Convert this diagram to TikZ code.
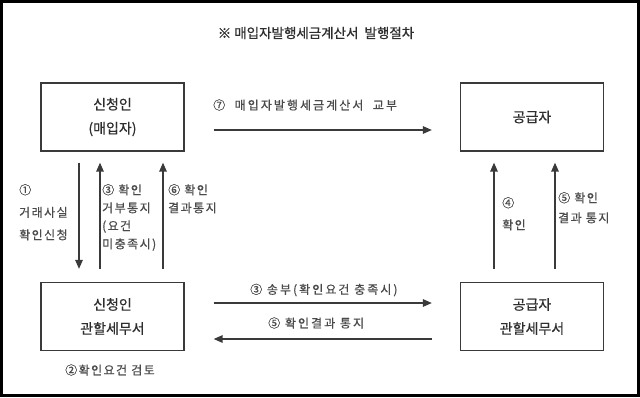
\documentclass[tikz,border=0pt]{standalone}
\usepackage{fontspec}
\setmainfont[FakeBold=0.6]{Noto Sans CJK KR}
\newfontfamily\krlab[LetterSpace=12,FakeBold=0.6]{Noto Sans CJK KR}
\newfontfamily\krwide[LetterSpace=17,FakeBold=0.6]{Noto Sans CJK KR}
\newfontfamily\krtitle[FakeBold=0.8]{Noto Sans CJK KR}
\usetikzlibrary{arrows.meta}
\definecolor{txt}{HTML}{2e2e2e}
\definecolor{labc}{HTML}{4a4a4a}
\definecolor{linec}{HTML}{3a3a3a}
\tikzset{
  box/.style={draw=linec, line width=1.3pt, minimum width=143pt, minimum height=68pt,
    inner sep=0pt, align=center, text=txt, font=\fontsize{14pt}{24pt}\selectfont},
  arr/.style={draw=linec, line width=1.4pt, -{Triangle[length=9pt,width=7.5pt]}},
  lab/.style={text=labc, inner sep=0pt, align=left, anchor=west,
    font=\krlab\fontsize{12pt}{18pt}\selectfont},
  widelab/.style={lab, font=\krwide\fontsize{12pt}{18pt}\selectfont},
}
\begin{document}
\begin{tikzpicture}[x=1pt,y=-1pt]
\useasboundingbox (0,0) rectangle (640,397);
\draw[black, line width=2.6pt] (1.3,1.3) rectangle (638.7,395.7);
\node[text=txt, font=\krtitle\fontsize{13.5pt}{15pt}\selectfont] (title) at (316,33) {※ 매입자발행세금계산서\ \ 발행절차};
\node[box] (b1) at (112.5,117) {신청인\\(매입자)};
\node[box] (b2) at (532,117) {공급자};
\node[box] (b3) at (112.5,316.5) {신청인\\관할세무서};
\node[box] (b4) at (532,316.5) {공급자\\관할세무서};
% top horizontal
\draw[arr, shorten <=29pt, shorten >=28pt] ([yshift=-13pt]b1.east) -- ([yshift=-13pt]b2.west);
\node[widelab] (l7) at (213,105) {⑦\ \ 매입자발행세금계산서\ \ 교부};
% left verticals
\draw[arr, shorten <=11pt, shorten >=13pt] ([xshift=-33.5pt]b1.south) -- ([xshift=-33.5pt]b3.north);
\draw[arr, shorten <=13pt, shorten >=11pt] ([xshift=-12.5pt]b3.north) -- ([xshift=-12.5pt]b1.south);
\draw[arr, shorten <=13pt, shorten >=11pt] ([xshift=50.5pt]b3.north) -- ([xshift=50.5pt]b1.south);
\node[lab, font=\krlab\fontsize{12pt}{22.5pt}\selectfont, anchor=north west] (l1) at (19,184) {①\\거래사실\\확인신청};
\node[lab, anchor=north west] (l3) at (102,184) {③ 확인\\거부통지\\(요건\\미충족시)};
\node[lab, anchor=north west] (l6) at (168,184) {⑥ 확인\\결과통지};
% right verticals
\draw[arr, shorten <=13pt, shorten >=11pt] ([xshift=-38pt]b4.north) -- ([xshift=-38pt]b2.south);
\draw[arr, shorten <=13pt, shorten >=11pt] ([xshift=23pt]b4.north) -- ([xshift=23pt]b2.south);
\node[lab, font=\krlab\fontsize{12pt}{22pt}\selectfont, anchor=north west] (l4) at (502,197) {④\\확인};
\node[lab, font=\krlab\fontsize{12pt}{20pt}\selectfont, anchor=north west] (l5) at (558,192) {⑤ 확인\\결과\ 통지};
% bottom horizontals
\draw[arr, shorten <=29pt, shorten >=28pt] ([yshift=13.5pt]b3.east) -- ([yshift=13.5pt]b4.west);
\node[widelab] (l3b) at (250,290) {③ 송부(확인요건\ 충족시)};
\draw[arr, shorten <=28pt, shorten >=29pt] ([yshift=-22.5pt]b4.west) -- ([yshift=-22.5pt]b3.east);
\node[widelab] (l5b) at (268,323) {⑤ 확인결과\ 통지};
\node[lab] (l2) at (65,370) {②확인요건\ 검토};
\end{tikzpicture}
\end{document}
